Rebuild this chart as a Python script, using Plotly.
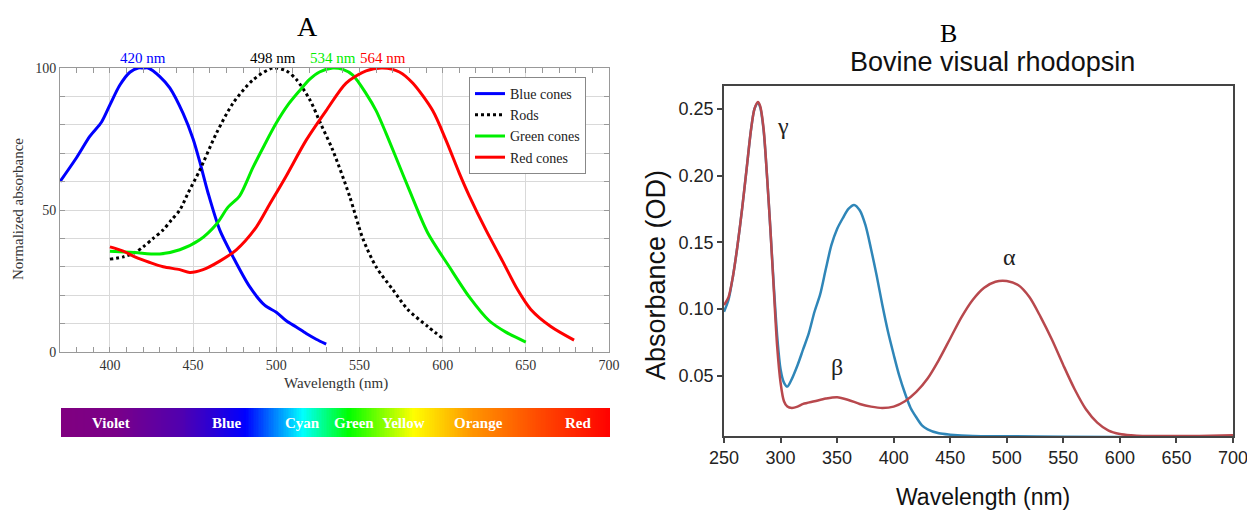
import plotly.graph_objects as go
import numpy as np

# ---------------- Panel A data ----------------
blue_wl = [370, 380, 388, 395, 400, 406, 412, 417, 420, 423, 430, 436, 444, 450, 454, 459, 466, 474, 484, 493, 500, 506, 512, 518, 524, 530]
blue_val = [60, 68.5, 76, 81, 87, 94, 98.5, 100, 100, 100, 97, 93, 84, 75, 67, 56, 43, 33.5, 23, 16.5, 14, 11, 8.8, 6.5, 4.5, 2.8]

rods_wl = [400, 408, 415, 420, 426, 432, 437, 442, 447, 454, 464, 474, 486, 498, 506, 512, 520, 527, 534, 544, 552, 560, 570, 579, 591, 600]
rods_val = [32.7, 33.5, 35, 37, 40, 43, 46.5, 50, 56, 64, 77, 87.6, 95.8, 100, 99, 96, 89, 80, 71, 55, 40, 30, 22, 15, 9, 4.8]

green_wl = [400, 415, 430, 442, 454, 464, 471, 478, 486, 493, 500, 507, 514, 520, 526, 534, 540, 546, 554, 560, 566, 573, 580, 591, 604, 616, 628, 638, 650]
green_val = [35.5, 35, 34.5, 36, 39.5, 45, 51, 55, 65, 73, 80.6, 87, 92, 96, 98.6, 100, 99.5, 97.5, 91, 85, 77, 67, 57, 42, 30, 19.4, 11, 7, 3.5]

red_wl = [400, 408, 415, 424, 432, 442, 448, 456, 466, 476, 488, 496, 506, 518, 530, 542, 554, 564, 574, 582, 594, 602, 610, 616, 626, 636, 645, 653, 665, 679]
red_val = [37, 35.5, 33.5, 31.5, 30, 29, 28, 29, 32, 36, 44, 52, 62, 74.6, 85, 94.7, 99, 100, 98.6, 94.7, 85, 74.6, 63, 55, 43, 32, 22, 15, 9, 4.2]

peak_wl = [420, 498, 534, 564]
peak_text = ["420 nm", "498 nm", "534 nm", "564 nm"]
peak_color = ["#0000ff", "#000000", "#00ee00", "#ff0000"]

# spectrum bar
spec_names = ["Violet", "Blue", "Cyan", "Green", "Yellow", "Orange", "Red"]
spec_label_wl = [400, 470, 515, 546, 576, 621, 681]
spec_stop_frac = [0.0, 0.10, 0.22, 0.336, 0.44, 0.524, 0.642, 0.748, 0.88, 1.0]
spec_stop_color = ["#800080", "#7a0088", "#5000b0", "#0000ff", "#00ffff", "#00ff00",
                   "#ffff00", "#ff9500", "#ff4400", "#ff0000"]

# ---------------- Panel B data ----------------
red_b_wl = [250, 254, 258, 262, 266, 270, 274, 277, 280, 282, 285, 288, 291, 294, 297, 300, 303, 306, 310, 315,
            320, 330, 340, 350, 360, 370, 380, 390, 400, 410, 420, 430, 440, 450, 460, 470, 480, 490, 500, 510,
            520, 530, 540, 550, 560, 570, 580, 590, 600, 610, 620, 640, 660, 680, 700]
red_b_val = [0.103, 0.109, 0.125, 0.148, 0.175, 0.205, 0.235, 0.250, 0.255, 0.252, 0.235, 0.200, 0.160, 0.115,
             0.072, 0.045, 0.031, 0.027, 0.026, 0.027, 0.029, 0.031, 0.033, 0.034, 0.032, 0.029, 0.027, 0.026,
             0.027, 0.031, 0.038, 0.048, 0.062, 0.078, 0.094, 0.107, 0.116, 0.1205, 0.121, 0.118, 0.109, 0.094,
             0.077, 0.058, 0.040, 0.025, 0.015, 0.009, 0.0065, 0.0055, 0.005, 0.005, 0.005, 0.0052, 0.0055]

blue_b_wl = [250, 254, 258, 262, 266, 270, 274, 277, 280, 282, 285, 288, 291, 294, 297, 300, 303, 306, 309, 315,
             320, 325, 330, 335, 340, 345, 350, 355, 360, 365, 370, 375, 380, 385, 390, 395, 400, 405, 410, 415,
             420, 425, 430, 440, 450, 470, 500, 550, 600]
blue_b_val = [0.098, 0.107, 0.125, 0.148, 0.175, 0.205, 0.235, 0.250, 0.254, 0.251, 0.234, 0.200, 0.160, 0.118,
              0.080, 0.055, 0.045, 0.042, 0.046, 0.058, 0.070, 0.082, 0.098, 0.111, 0.130, 0.148, 0.160, 0.168,
              0.175, 0.178, 0.174, 0.163, 0.145, 0.125, 0.103, 0.083, 0.066, 0.050, 0.037, 0.026, 0.019, 0.013,
              0.010, 0.007, 0.006, 0.005, 0.0048, 0.0045, 0.0043]

greek_text = ["γ", "β", "α"]
greek_wl = [302, 350, 502]
greek_val = [0.237, 0.057, 0.139]

b_xticks = [250, 300, 350, 400, 450, 500, 550, 600, 650, 700]
b_yticks = [0.05, 0.10, 0.15, 0.20, 0.25]
b_yticktext = ["0.05", "0.10", "0.15", "0.20", "0.25"]

SERIF = "Liberation Serif, DejaVu Serif, serif"
SANS = "Liberation Sans, Arial, sans-serif"
NARROW = "Liberation Sans Narrow, Liberation Sans, Arial, sans-serif"

W, H = 1247, 510

fig = go.Figure()

# Panel A curves
fig.add_trace(go.Scatter(x=blue_wl, y=blue_val, mode="lines", name="Blue cones",
                         line=dict(color="#0000ff", width=3, shape="spline", smoothing=0.8), xaxis="x", yaxis="y"))
fig.add_trace(go.Scatter(x=rods_wl, y=rods_val, mode="lines", name="Rods",
                         line=dict(color="#000000", width=3, dash="dot", shape="spline", smoothing=0.8), xaxis="x", yaxis="y"))
fig.add_trace(go.Scatter(x=green_wl, y=green_val, mode="lines", name="Green cones",
                         line=dict(color="#00ee00", width=3, shape="spline", smoothing=0.8), xaxis="x", yaxis="y"))
fig.add_trace(go.Scatter(x=red_wl, y=red_val, mode="lines", name="Red cones",
                         line=dict(color="#ff0000", width=3, shape="spline", smoothing=0.8), xaxis="x", yaxis="y"))

# Spectrum bar
bar_x = np.linspace(370, 700, 332)
colorscale = [[f, c] for f, c in zip(spec_stop_frac, spec_stop_color)]
fig.add_trace(go.Heatmap(x=bar_x, y=[0], z=[bar_x], colorscale=colorscale, zmin=370, zmax=700,
                         showscale=False, hoverinfo="skip", xaxis="x3", yaxis="y3"))

# Panel B curves
fig.add_trace(go.Scatter(x=blue_b_wl, y=blue_b_val, mode="lines", showlegend=False,
                         line=dict(color="#2f86b8", width=2.5, shape="spline", smoothing=0.8), xaxis="x2", yaxis="y2"))
fig.add_trace(go.Scatter(x=red_b_wl, y=red_b_val, mode="lines", showlegend=False,
                         line=dict(color="#b8484d", width=2.5, shape="spline", smoothing=0.8), xaxis="x2", yaxis="y2"))

annotations = []
for w, t, c in zip(peak_wl, peak_text, peak_color):
    annotations.append(dict(x=w, y=100, xref="x", yref="y", text=t, showarrow=False,
                            xanchor="center", yanchor="bottom", yshift=0,
                            font=dict(family=SERIF, size=15, color=c)))
for w, t in zip(spec_label_wl, spec_names):
    annotations.append(dict(x=w, y=0, xref="x3", yref="y3", text=f"<b>{t}</b>", showarrow=False,
                            xanchor="center", yanchor="middle",
                            font=dict(family=SERIF, size=15, color="white")))
for w, v, t in zip(greek_wl, greek_val, greek_text):
    annotations.append(dict(x=w, y=v, xref="x2", yref="y2", text=t, showarrow=False,
                            xanchor="center", yanchor="middle",
                            font=dict(family=SERIF, size=24, color="#222")))


def paper_text(px, py, text, font, angle=0):
    return dict(x=px / W, y=1 - py / H, xref="paper", yref="paper", text=text,
                showarrow=False, xanchor="center", yanchor="middle", textangle=angle, font=font)


annotations += [
    paper_text(307, 26, "A", dict(family=SERIF, size=28, color="black")),
    paper_text(948, 34, "B", dict(family=SERIF, size=26, color="black")),
    paper_text(992, 62, "Bovine visual rhodopsin", dict(family=SANS, size=27, color="#111")),
    paper_text(336, 383, "Wavelength (nm)", dict(family=SERIF, size=15, color="#333")),
    paper_text(18, 209, "Normalized absorbance", dict(family=SERIF, size=15, color="#333"), -90),
    paper_text(983, 497, "Wavelength (nm)", dict(family=SANS, size=23, color="#111")),
    paper_text(656, 275, "Absorbance (OD)", dict(family=SANS, size=27, color="#111"), -90),
]

fig.update_layout(
    width=W, height=H,
    margin=dict(l=0, r=0, t=0, b=0, pad=0, autoexpand=False),
    paper_bgcolor="white", plot_bgcolor="white",
    showlegend=True,
    legend=dict(x=469 / W, y=1 - 77 / H, xanchor="left", yanchor="top",
                bgcolor="white", bordercolor="#888", borderwidth=1,
                font=dict(family=SERIF, size=14, color="#222"), tracegroupgap=0,
                itemwidth=30),
    xaxis=dict(domain=[60 / W, 609 / W], range=[370, 700], anchor="y", automargin=False,
               tickvals=[400, 450, 500, 550, 600, 650, 700],
               showgrid=True, gridcolor="#d9d9d9", gridwidth=1,
               ticks="inside", ticklen=5, tickcolor="#999", mirror="allticks",
               showline=True, linecolor="#999", linewidth=1, zeroline=False,
               minor=dict(dtick=10, ticks="inside", ticklen=5, tickcolor="#999", showgrid=False),
               tickfont=dict(family=SERIF, size=14, color="#333")),
    yaxis=dict(domain=[1 - 352 / H, 1 - 68 / H], range=[0, 100], anchor="x", automargin=False,
               tickvals=[0, 50, 100],
               showgrid=True, gridcolor="#d9d9d9", gridwidth=1,
               ticks="inside", ticklen=5, tickcolor="#999", mirror="allticks",
               showline=True, linecolor="#999", linewidth=1, zeroline=False,
               minor=dict(dtick=10, ticks="inside", ticklen=5, tickcolor="#999",
                          showgrid=True, gridcolor="#d9d9d9"),
               tickfont=dict(family=SERIF, size=14, color="#333")),
    xaxis3=dict(domain=[61 / W, 610 / W], range=[370, 700], anchor="y3", visible=False, automargin=False),
    yaxis3=dict(domain=[1 - 437 / H, 1 - 408 / H], range=[-0.5, 0.5], anchor="x3", visible=False, automargin=False),
    xaxis2=dict(domain=[724 / W, 1233 / W], range=[250, 700.01], anchor="y2", automargin=False,
                tickvals=b_xticks, ticklabeloverflow="allow", showgrid=False, zeroline=False,
                ticks="outside", ticklen=5, tickcolor="#444", tickwidth=1.5,
                showline=True, linecolor="#444", linewidth=1.5, mirror=True,
                tickfont=dict(family=NARROW, size=18, color="#222")),
    yaxis2=dict(domain=[1 - 436 / H, 1 - 86 / H], range=[0.005, 0.267], anchor="x2", automargin=False,
                tickvals=b_yticks, ticktext=b_yticktext,
                showgrid=False, zeroline=False,
                ticks="outside", ticklen=5, tickcolor="#444", tickwidth=1.5,
                showline=True, linecolor="#444", linewidth=1.5, mirror=True,
                tickfont=dict(family=NARROW, size=18, color="#222")),
    annotations=annotations,
)

fig.write_html("out.html", config={"displayModeBar": False},
               post_script="document.body.style.margin='0';document.body.style.overflow='hidden';")
